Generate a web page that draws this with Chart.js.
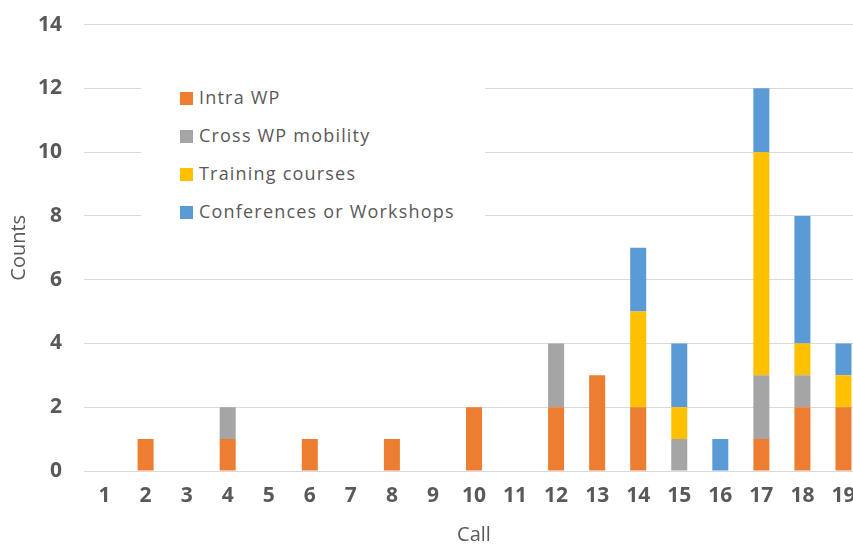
<!DOCTYPE html>
<html>
<head>
<meta charset="utf-8">
<script src="https://cdn.jsdelivr.net/npm/chart.js@4"></script>
<style>
  html, body { margin: 0; padding: 0; background: #fff; overflow: hidden; }
  #wrap { position: relative; width: 880px; height: 547px; overflow: hidden; }
  #chart { position: absolute; left: 0; top: -10px; }
  #legend {
    position: absolute; left: 141px; top: 72px; width: 344px; height: 158px;
    background: #fff; font-family: "Open Sans", sans-serif; font-size: 18px; letter-spacing: 1.2px; color: #595959;
  }
  #legend .item { position: absolute; left: 39px; height: 22px; line-height: 22px; white-space: nowrap; }
  #legend .box { display: inline-block; width: 13px; height: 13px; margin-right: 6px; vertical-align: -1px; }
</style>
</head>
<body>
<div id="wrap">
  <canvas id="chart" width="880" height="557"></canvas>
  <div id="legend"></div>
</div>
<script>
// datos
const calls = ['1','2','3','4','5','6','7','8','9','10','11','12','13','14','15','16','17','18','19'];
const intraWP     = [0,1,0,1,0,1,0,1,0,2,0,2,3,2,0,0,1,2,2];
const crossWP     = [0,0,0,1,0,0,0,0,0,0,0,2,0,0,1,0,2,1,0];
const training    = [0,0,0,0,0,0,0,0,0,0,0,0,0,3,1,0,7,1,1];
const conferences = [0,0,0,0,0,0,0,0,0,0,0,0,0,2,2,1,2,4,1];
const yTicks = [0,2,4,6,8,10,12,14];

const seriesNames = ['Intra WP', 'Cross WP mobility', 'Training courses', 'Conferences or Workshops'];
const seriesColors = ['#ED7D31', '#A5A5A5', '#FFC000', '#5B9BD5'];
const seriesData = [intraWP, crossWP, training, conferences];

const datasets = seriesNames.map((name, i) => ({
  label: name,
  data: seriesData[i],
  backgroundColor: seriesColors[i],
  borderWidth: 0,
  barPercentage: 0.39,
  categoryPercentage: 1
}));

const tickFont = { family: '"Open Sans", sans-serif', size: 21, weight: 'bold' };
const titleFont = { family: '"Open Sans", sans-serif', size: 20 };

const chart = new Chart(document.getElementById('chart').getContext('2d'), {
  type: 'bar',
  data: { labels: calls, datasets: datasets },
  options: {
    responsive: false,
    animation: false,
    layout: { padding: { top: 13, right: 16, left: 0, bottom: 0 } },
    plugins: { legend: { display: false }, tooltip: { enabled: false } },
    scales: {
      x: {
        stacked: true,
        grid: { display: false, drawTicks: false },
        border: { display: false },
        ticks: { color: '#595959', font: tickFont, padding: 12, maxRotation: 0 },
        title: { display: true, text: 'Call', color: '#595959', font: titleFont, padding: { top: 4, bottom: 0 } },
        afterFit: (s) => { s.height = 76; }
      },
      y: {
        stacked: true,
        min: 0, max: 14,
        afterBuildTicks: (s) => { s.ticks = yTicks.map(v => ({ value: v })); },
        grid: { color: '#D9D9D9', lineWidth: 1, drawTicks: false },
        border: { display: false },
        ticks: { color: '#595959', font: tickFont, padding: 22 },
        title: { display: true, text: 'Counts', color: '#595959', font: titleFont, padding: { top: 7, bottom: 4 } },
        afterFit: (s) => { s.width = 84; }
      }
    }
  }
});

// leyenda dentro del area del grafico
const legend = document.getElementById('legend');
seriesNames.forEach((name, i) => {
  const el = document.createElement('div');
  el.className = 'item';
  el.style.top = (14 + i * 38) + 'px';
  el.innerHTML = '<span class="box" style="background:' + seriesColors[i] + '"></span>' + name;
  legend.appendChild(el);
});
</script>
</body>
</html>
